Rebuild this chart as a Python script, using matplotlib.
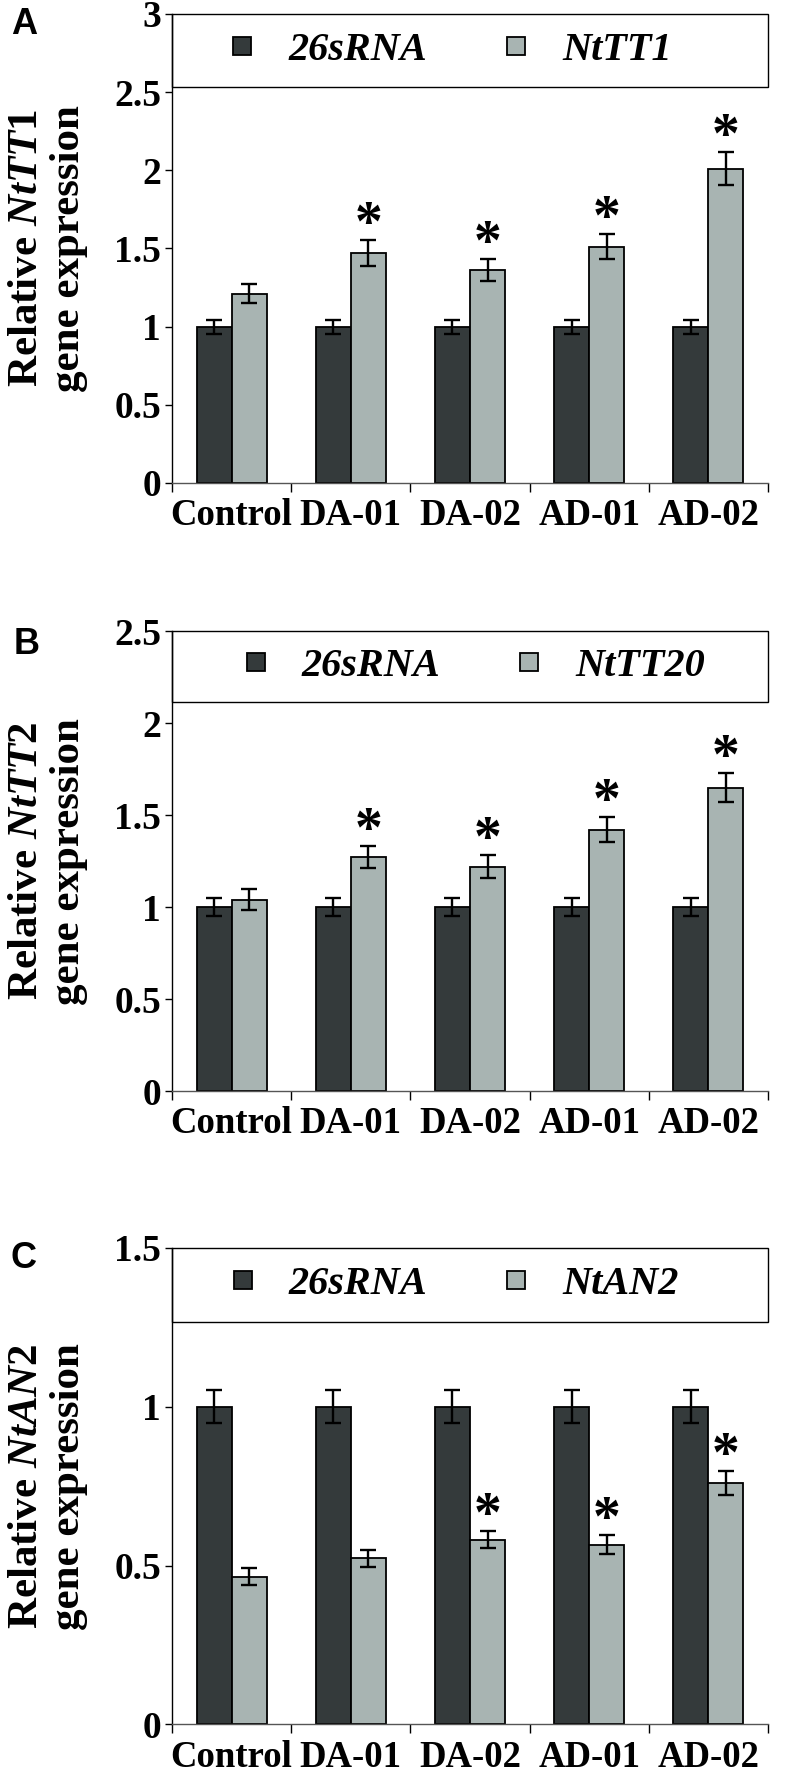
import matplotlib
matplotlib.use('Agg')
import matplotlib.pyplot as plt
from matplotlib.lines import Line2D
from matplotlib.patches import Rectangle
from matplotlib.font_manager import FontProperties
import numpy as np

plt.rcParams['font.family'] = ['Liberation Serif', 'DejaVu Serif']
plt.rcParams['font.weight'] = 'bold'
plt.rcParams['mathtext.fontset'] = 'custom'
plt.rcParams['mathtext.rm'] = 'Liberation Serif:bold'
plt.rcParams['mathtext.it'] = 'Liberation Serif:italic:bold'
plt.rcParams['mathtext.bf'] = 'Liberation Serif:bold'

# data
groups = ['Control', 'DA-01', 'DA-02', 'AD-01', 'AD-02']

ref_a = [1.0, 1.0, 1.0, 1.0, 1.0]
ref_a_err = [0.045, 0.045, 0.045, 0.045, 0.045]
tt1 = [1.21, 1.47, 1.36, 1.51, 2.01]
tt1_err = [0.06, 0.085, 0.07, 0.08, 0.105]
stars_a = [False, True, True, True, True]

ref_b = [1.0, 1.0, 1.0, 1.0, 1.0]
ref_b_err = [0.05, 0.05, 0.05, 0.05, 0.05]
tt2 = [1.04, 1.27, 1.22, 1.42, 1.65]
tt2_err = [0.058, 0.06, 0.062, 0.068, 0.079]
stars_b = [False, True, True, True, True]

ref_c = [1.0, 1.0, 1.0, 1.0, 1.0]
ref_c_err = [0.052, 0.052, 0.052, 0.052, 0.052]
an2 = [0.465, 0.523, 0.581, 0.566, 0.761]
an2_err = [0.027, 0.026, 0.027, 0.03, 0.038]
stars_c = [False, False, True, True, True]

dark = '#343a3b'
light = '#a8b4b2'

fig = plt.figure(figsize=(7.86, 17.84), dpi=100)


def panel(rect, letter, letter_xy, gene, leg_gene, ref, ref_err, vals, errs, stars, ymax, leg_x):
    ax = fig.add_axes(rect)
    x = np.arange(len(groups))
    w = 0.294
    ekw = dict(ecolor='black', elinewidth=1.7, capsize=6, capthick=1.7)
    ax.bar(x - w / 2, ref, w, yerr=ref_err, color=dark, edgecolor='black', linewidth=1.3, error_kw=ekw, zorder=2)
    ax.bar(x + w / 2, vals, w, yerr=errs, color=light, edgecolor='black', linewidth=1.3, error_kw=ekw, zorder=2)
    for i in range(len(groups)):
        if stars[i]:
            ax.annotate('*', (x[i] + w / 2, vals[i] + errs[i]), xytext=(0, 0), textcoords='offset points',
                        ha='center', va='baseline', fontsize=40, fontweight='bold')

    ax.set_xlim(-0.5, len(groups) - 0.5)
    ax.set_ylim(0, ymax)
    yt = np.arange(0, ymax + 0.01, 0.5)
    ax.set_yticks(yt)
    ax.set_yticklabels([f'{v:g}' for v in yt])
    ax.set_xticks(x)
    ax.set_xticklabels(groups)
    ax.set_xticks(np.arange(-0.5, len(groups), 1.0), minor=True)
    ax.tick_params(axis='x', which='major', length=0, pad=11, labelsize=26.5)
    ax.tick_params(axis='x', which='minor', length=6.5, width=1.0, direction='out')
    ax.tick_params(axis='y', length=5, width=1.0, pad=3, labelsize=27)
    for s in ['top', 'right']:
        ax.spines[s].set_visible(False)
    ax.spines['left'].set_linewidth(1.0)
    ax.spines['bottom'].set_linewidth(1.0)
    ax.spines['bottom'].set_color('#555555')

    # legend box across the top of the axes
    y0 = 0.845
    ax.add_patch(Rectangle((0, y0), 1, 1 - y0, transform=ax.transAxes, fill=False,
                           edgecolor='black', linewidth=1.0, clip_on=False, zorder=3))
    handles = [Line2D([], [], ls='none', marker='s', ms=13, mfc=dark, mec='black', mew=1.3),
               Line2D([], [], ls='none', marker='s', ms=13, mfc=light, mec='black', mew=1.3)]
    ax.legend(handles, ['26sRNA', leg_gene], ncol=2, loc='center', bbox_to_anchor=(leg_x, (1 + y0) / 2),
              frameon=False, handlelength=0.8, handletextpad=0.75, columnspacing=1.8,
              prop=FontProperties(family='Liberation Serif', style='italic', weight='bold', size=29))

    b = ax.get_position()
    fig.text(0.061, b.y0 + b.height / 2, 'Relative $\\mathit{' + gene + '}$\ngene expression',
             rotation=90, ha='center', va='center', ma='center', fontsize=31, fontweight='bold',
             linespacing=1.15)
    fig.text(letter_xy[0], letter_xy[1], letter, ha='center', va='center', fontsize=26,
             fontweight='bold', family='Liberation Sans')
    return ax


L = 172 / 786
W = (768 - 172) / 786
panel([L, 0.7293, W, 0.2629], 'A', (24 / 786, 1 - 24 / 1784), 'NtTT1', 'NtTT1',
      ref_a, ref_a_err, tt1, tt1_err, stars_a, 3.0, 0.465)
panel([L, 0.3884, W, 0.2578], 'B', (27 / 786, 1 - 644 / 1784), 'NtTT2', 'NtTT20',
      ref_b, ref_b_err, tt2, tt2_err, stars_b, 2.5, 0.504)
panel([L, 0.0334, W, 0.2671], 'C', (24 / 786, 1 - 1258 / 1784), 'NtAN2', 'NtAN2',
      ref_c, ref_c_err, an2, an2_err, stars_c, 1.5, 0.471)

fig.savefig('out.png', dpi=100)
